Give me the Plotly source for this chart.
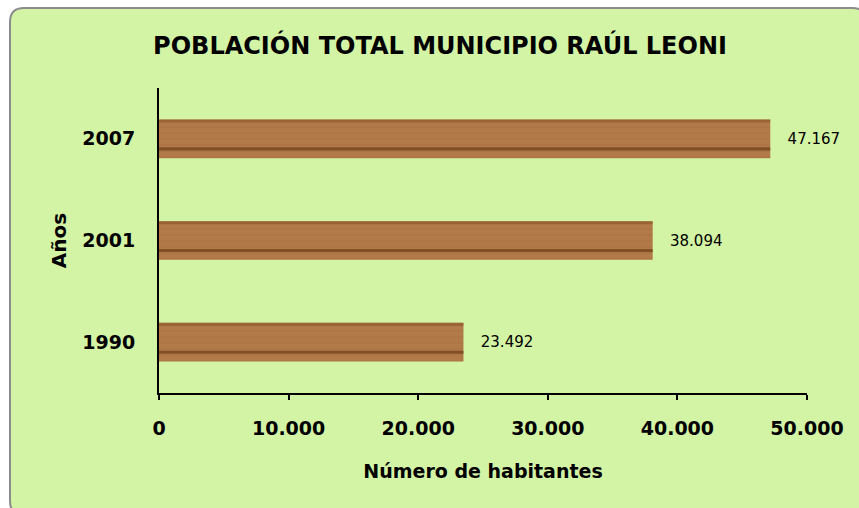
import plotly.graph_objects as go

years = ["1990", "2001", "2007"]
population = [23492, 38094, 47167]
x_ticks = [0, 10000, 20000, 30000, 40000, 50000]
title_text = "POBLACIÓN TOTAL MUNICIPIO RAÚL LEONI"
x_title = "Número de habitantes"
y_title = "Años"

W, H = 859, 508
L, R, T, B = 159, 807, 88, 393
pw, ph = R - L, B - T
FONT = "DejaVu Sans, Verdana, sans-serif"
BW = 0.38

def px(x):
    return (x - L) / pw

def py(y):
    return (B - y) / ph

fig = go.Figure()
# base wood-coloured bar
fig.add_trace(go.Bar(
    y=years, x=population, orientation="h", width=BW,
    marker=dict(color="#B07646", line=dict(width=0),
                pattern=dict(shape="-", fgcolor="#94602F", bgcolor="#B27A48", size=6, solidity=0.12)),
    text=population, texttemplate="   %{x:,.0f}", textposition="outside",
    textfont=dict(family=FONT, size=15, color="black"),
    cliponaxis=False, hoverinfo="skip",
))
# dark grain streak
fig.add_trace(go.Bar(
    y=years, x=population, orientation="h", width=0.03, offset=-BW / 2 + BW * 0.2,
    marker=dict(color="#6E3C18", opacity=0.7, line=dict(width=0)),
    hoverinfo="skip",
))
# darker top edge
fig.add_trace(go.Bar(
    y=years, x=population, orientation="h", width=0.03, offset=BW / 2 - 0.03,
    marker=dict(color="#8A5428", opacity=0.55, line=dict(width=0)),
    hoverinfo="skip",
))

# rounded border frame
x0, x1, y0, y1, r = 10, 866, 8, 515, 14
path = (f"M {px(x0+r)},{py(y0)} L {px(x1-r)},{py(y0)} Q {px(x1)},{py(y0)} {px(x1)},{py(y0+r)} "
        f"L {px(x1)},{py(y1-r)} Q {px(x1)},{py(y1)} {px(x1-r)},{py(y1)} "
        f"L {px(x0+r)},{py(y1)} Q {px(x0)},{py(y1)} {px(x0)},{py(y1-r)} "
        f"L {px(x0)},{py(y0+r)} Q {px(x0)},{py(y0)} {px(x0+r)},{py(y0)} Z")
fig.add_shape(type="path", path=path, xref="paper", yref="paper",
              fillcolor="#D3F3A5", line=dict(color="#8C8C8C", width=2), layer="below")

fig.update_layout(
    width=W, height=H,
    margin=dict(l=L, r=W - R, t=T, b=H - B),
    paper_bgcolor="white", plot_bgcolor="rgba(0,0,0,0)",
    separators=",.",
    barmode="overlay",
    showlegend=False,
    font=dict(family=FONT, color="black"),
    title=dict(text=title_text, x=440 / W, xref="container", xanchor="center",
               y=1 - 46 / H, yref="container", yanchor="middle",
               font=dict(size=24, family=FONT, color="black", weight="bold")),
    xaxis=dict(range=[0, 50000], tickvals=x_ticks, tickformat=",.0f",
               showgrid=False, zeroline=False, showline=True, linecolor="black", linewidth=2,
               ticks="outside", ticklen=5, tickwidth=2, tickcolor="black",
               ticklabelstandoff=12,
               tickfont=dict(size=19, family=FONT, weight="bold"),
               title=dict(text=x_title, font=dict(size=19, weight="bold"), standoff=27)),
    yaxis=dict(showgrid=False, zeroline=False, showline=True, linecolor="black", linewidth=2,
               ticks="", ticklabelstandoff=18,
               tickfont=dict(size=19, family=FONT, weight="bold"),
               title=dict(text=y_title, font=dict(size=20, weight="bold"), standoff=10)),
)

fig.write_html("out.html", config={"displayModeBar": False},
               post_script="document.body.style.margin='0';document.body.style.padding='0';")
